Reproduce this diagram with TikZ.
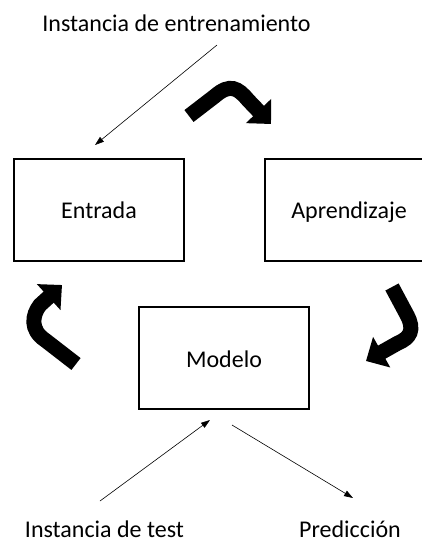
\documentclass[tikz,border=0pt]{standalone}
\usepackage{fontspec}
\setmainfont{Carlito}
\usetikzlibrary{arrows.meta}
\begin{document}
\begin{tikzpicture}[x=1pt,y=-1pt,
  box/.style={draw,line width=1.2pt,minimum width=170pt,minimum height=102pt,inner sep=0pt},
  lbl/.style={font=\fontsize{24}{28}\selectfont,inner sep=0pt,anchor=base},
  thin/.style={line width=0.6pt,-{Triangle[length=9pt,width=6pt]}},
  fat/.style={line width=15pt,-{Triangle[length=18pt,width=34pt]}}]
\useasboundingbox (0,0) rectangle (422,542);
\node[box] (entrada) at (99,210) {};
\node[box,minimum width=168pt] (aprend) at (349,210) {};
\node[box] (modelo) at (224,358) {};
\node[lbl] (tentrada) at (99,218) {Entrada};
\node[lbl] (taprend) at (349,218) {Aprendizaje};
\node[lbl] (tmodelo) at (224,367) {Modelo};
\node[lbl] (inst) at (176.5,31) {Instancia de entrenamiento};
\node[lbl] (test) at (104.5,537) {Instancia de test};
\node[lbl] (pred) at (350,537) {Predicción};
\coordinate (a1) at (217,45);
\coordinate (a2) at (95,145);
\coordinate (t1) at (100,501);
\coordinate (t2) at (210,420);
\coordinate (p1) at (232,425);
\coordinate (p2) at (353,498);
\draw[thin] (a1) -- (a2);
\draw[thin] (t1) -- (t2);
\draw[thin] (p1) -- (p2);
\coordinate (c1s) at (189,116);
\coordinate (c1e) at (271,124);
\draw[fat] (c1s) -- (215,96) .. controls (230,83) and (238,88) .. (248,100) -- (c1e);
\coordinate (c2s) at (76,364);
\coordinate (c2e) at (62,285);
\draw[fat] (c2s) -- (45,340) .. controls (30,330) and (32,315) .. (40,305) -- (c2e);
\coordinate (c3s) at (392,287);
\coordinate (c3e) at (366,361);
\draw[fat] (c3s) -- (407,315) .. controls (415,330) and (410,338) .. (398,343) -- (c3e);
\end{tikzpicture}
\end{document}
